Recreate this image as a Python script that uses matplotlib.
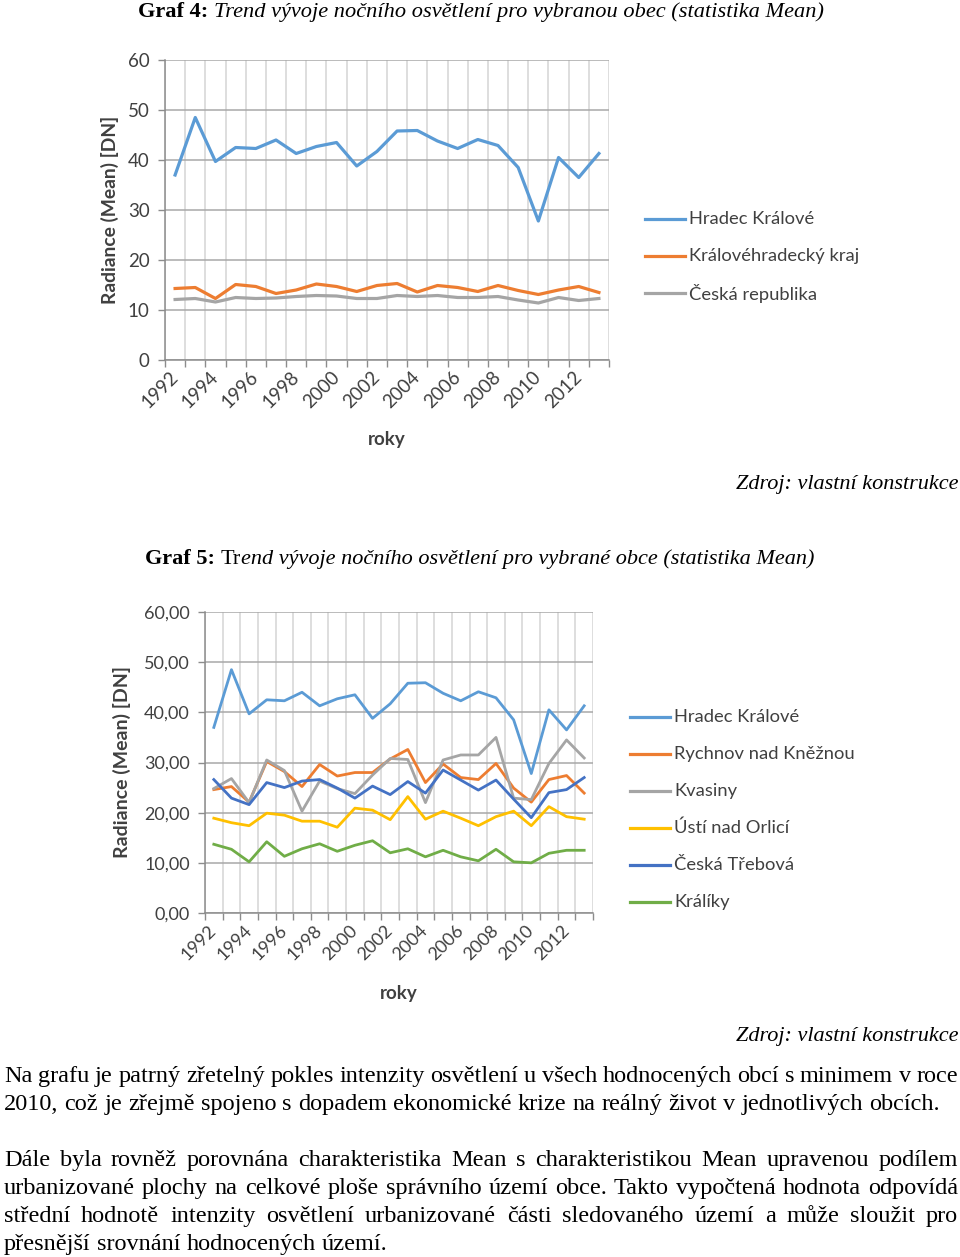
import matplotlib
matplotlib.use('Agg')
import matplotlib.pyplot as plt
from matplotlib.lines import Line2D
import numpy as np

# ---------------- data ----------------
years = list(range(1992, 2014))
year_labels = [str(y) for y in years]

# Graf 4
g4_names = ["Hradec Králové", "Královéhradecký kraj", "Česká republika"]
hradec = [37.0, 48.5, 39.7, 42.5, 42.3, 44.0, 41.3, 42.7, 43.5, 38.8, 41.7,
          45.8, 45.9, 43.8, 42.3, 44.1, 42.9, 38.5, 27.8, 40.5, 36.5, 41.3]
kraj = [14.3, 14.5, 12.3, 15.1, 14.7, 13.3, 14.0, 15.2, 14.7, 13.7, 14.9,
        15.3, 13.6, 14.9, 14.5, 13.7, 14.9, 13.9, 13.1, 14.0, 14.7, 13.5]
cr = [12.1, 12.3, 11.6, 12.5, 12.3, 12.4, 12.7, 12.9, 12.8, 12.3, 12.3,
      12.9, 12.7, 12.9, 12.5, 12.5, 12.7, 12.0, 11.4, 12.5, 11.9, 12.3]

# Graf 5
g5_names = ["Hradec Králové", "Rychnov nad Kněžnou", "Kvasiny",
            "Ústí nad Orlicí", "Česká Třebová", "Králíky"]
rychnov = [24.6, 25.2, 22.1, 30.2, 28.2, 25.2, 29.6, 27.3, 28.0, 28.0, 30.7,
           32.6, 26.0, 29.7, 27.0, 26.6, 29.8, 24.9, 22.1, 26.6, 27.4, 23.9]
kvasiny = [24.8, 26.8, 22.0, 30.5, 28.4, 20.3, 26.3, 24.8, 23.8, 27.5, 30.8,
           30.6, 22.0, 30.5, 31.5, 31.5, 35.0, 22.9, 22.6, 29.8, 34.5, 30.9]
usti = [18.9, 18.0, 17.4, 19.9, 19.5, 18.3, 18.3, 17.1, 20.9, 20.5, 18.6,
        23.2, 18.7, 20.3, 18.9, 17.4, 19.2, 20.3, 17.4, 21.2, 19.2, 18.7]
ceska_trebova = [26.6, 22.9, 21.6, 26.0, 25.0, 26.3, 26.6, 24.9, 22.9, 25.3, 23.6,
                 26.2, 23.9, 28.5, 26.5, 24.5, 26.5, 22.7, 19.0, 24.0, 24.6, 27.0]
kraliky = [13.7, 12.7, 10.2, 14.2, 11.3, 12.8, 13.8, 12.3, 13.5, 14.4, 12.0,
           12.8, 11.2, 12.5, 11.2, 10.4, 12.7, 10.2, 10.0, 11.9, 12.5, 12.5]

y_ticks = [0, 10, 20, 30, 40, 50, 60]

# ---------------- texts ----------------
para1 = ["Na grafu je patrný zřetelný pokles intenzity osvětlení u všech hodnocených obcí s minimem v roce",
         "2010, což je zřejmě spojeno s dopadem ekonomické krize na reálný život v jednotlivých obcích."]
para2 = ["Dále byla rovněž porovnána charakteristika Mean s charakteristikou Mean upravenou podílem",
         "urbanizované plochy na celkové ploše správního území obce. Takto vypočtená hodnota odpovídá",
         "střední hodnotě intenzity osvětlení urbanizované části sledovaného území a může sloužit pro",
         "přesnější srovnání hodnocených území."]

# ---------------- figure ----------------
W, H = 960, 1257
fig = plt.figure(figsize=(W / 100, H / 100), dpi=100)
renderer = fig.canvas.get_renderer()

SANS = ['Lato', 'DejaVu Sans']
SERIF = ['Liberation Serif', 'DejaVu Serif']

C_BLUE = '#5B9BD5'
C_ORANGE = '#ED7D31'
C_GRAY = '#A5A5A5'
C_YELLOW = '#FFC000'
C_DBLUE = '#4472C4'
C_GREEN = '#70AD47'
AXIS_C = '#8c8c8c'
TXT_C = '#404040'


def fx(px):
    return px / W


def fy(py):
    return 1 - py / H


def make_axes(left, top, right, bottom, ytick_fmt, tick_fs, xtick_fs, label_fs,
              ylab_x, xlab_y, xpad):
    ax = fig.add_axes([fx(left), fy(bottom), (right - left) / W, (bottom - top) / H])
    n = len(years)
    ax.set_xlim(-0.5, n - 0.5)
    ax.set_ylim(0, 60)
    ax.set_yticks(y_ticks)
    ax.set_yticklabels([ytick_fmt(v) for v in y_ticks], family=SANS, fontsize=tick_fs,
                       color=TXT_C)
    ax.set_xticks(np.arange(0, n, 2))
    ax.set_xticklabels(year_labels[::2], rotation=45, ha='right', va='center',
                       rotation_mode='anchor', family=SANS, fontsize=xtick_fs,
                       color=TXT_C)
    ax.set_xticks(np.arange(-0.5, n, 1), minor=True)
    ax.tick_params(axis='x', which='major', length=0, pad=xpad)
    ax.tick_params(axis='x', which='minor', length=5, color=AXIS_C, width=1)
    ax.tick_params(axis='y', length=5, color=AXIS_C, width=1, pad=6)
    ax.yaxis.grid(True, color='#a8a8a8', lw=1.1)
    ax.xaxis.grid(True, which='minor', color='#d4d4d4', lw=1.1)
    ax.set_axisbelow(True)
    for s in ['top', 'right']:
        ax.spines[s].set_visible(False)
    for s in ['left', 'bottom']:
        ax.spines[s].set_color(AXIS_C)
        ax.spines[s].set_linewidth(1.1)
    ax.set_ylabel('Radiance (Mean) [DN]', family=SANS, fontweight='bold',
                  fontsize=label_fs, color=TXT_C)
    ax.yaxis.set_label_coords((ylab_x - left) / (right - left), 0.5)
    ax.set_xlabel('roky', family=SANS, fontweight='bold', fontsize=13.5,
                  color=TXT_C)
    ax.xaxis.set_label_coords(0.5, (bottom - xlab_y) / (bottom - top))
    ax.xaxis.label.set_va('center')
    ax.yaxis.label.set_va('center')
    return ax


def manual_legend(names, colors, x0, y0, dy, fs, lw, hlen=40):
    for i, (nm, c) in enumerate(zip(names, colors)):
        yy = y0 + i * dy
        fig.add_artist(Line2D([fx(x0), fx(x0 + hlen)], [fy(yy), fy(yy)], color=c, lw=lw))
        fig.text(fx(x0 + hlen + 4), fy(yy), nm, family=SANS, fontsize=fs,
                 ha='left', va='center', color=TXT_C)


# ---- Graf 4 chart ----
ax1 = make_axes(165, 60, 609, 360, lambda v: f"{v}", 13.5, 13.5, 13.9, 110, 440, 10)
x = np.arange(len(years))
for vals, c in zip([hradec, kraj, cr], [C_BLUE, C_ORANGE, C_GRAY]):
    ax1.plot(x, vals, color=c, lw=2.3, solid_joinstyle='round')
manual_legend(g4_names, [C_BLUE, C_ORANGE, C_GRAY], 645, 219, 37, 13.2, 2.3)

# ---- Graf 5 chart ----
ax2 = make_axes(205, 612, 593, 913, lambda v: f"{v},00", 13, 13, 14, 122, 993, 11)
for vals, c in zip([hradec, rychnov, kvasiny, usti, ceska_trebova, kraliky],
                   [C_BLUE, C_ORANGE, C_GRAY, C_YELLOW, C_DBLUE, C_GREEN]):
    ax2.plot(x, vals, color=c, lw=2.0, solid_joinstyle='round')
manual_legend(g5_names, [C_BLUE, C_ORANGE, C_GRAY, C_YELLOW, C_DBLUE, C_GREEN],
              630, 717, 37, 13.2, 2.3)


# ---------------- rich text helpers ----------------
def width_of(s, **kw):
    t = fig.text(0, 0, s, **kw)
    w = t.get_window_extent(renderer=renderer).width
    t.remove()
    return w


def space_width(**kw):
    return width_of("x x", **kw) - width_of("xx", **kw)


def rich_line(pieces, x, y_base, ha='left'):
    """pieces: list of (string, kwargs, space_after_bool)"""
    widths = []
    for s, kw, sp in pieces:
        w = width_of(s, **kw)
        widths.append(w + (space_width(**kw) if sp else 0))
    total = sum(widths)
    cur = x - total / 2 if ha == 'center' else (x - total if ha == 'right' else x)
    for (s, kw, sp), w in zip(pieces, widths):
        fig.text(fx(cur), fy(y_base), s, ha='left', va='baseline', **kw)
        cur += w


def fit_size(pieces_fn, target):
    w0 = 0
    for s, kw, sp in pieces_fn(10):
        w0 += width_of(s, **kw) + (space_width(**kw) if sp else 0)
    return 10 * target / w0


tcol = '#000000'


def title4(fs):
    return [("Graf 4:", dict(family=SERIF, fontweight='bold', fontsize=fs, color=tcol), True),
            ("Trend vývoje nočního osvětlení pro vybranou obec (statistika Mean)",
             dict(family=SERIF, style='italic', fontsize=fs, color=tcol), False)]


def title5(fs):
    return [("Graf 5:", dict(family=SERIF, fontweight='bold', fontsize=fs, color=tcol), True),
            ("Tr", dict(family=SERIF, fontsize=fs, color=tcol), False),
            ("end vývoje nočního osvětlení pro vybrané obce (statistika Mean)",
             dict(family=SERIF, style='italic', fontsize=fs, color=tcol), False)]


def zdroj(fs):
    return [("Zdroj: vlastní konstrukce",
             dict(family=SERIF, style='italic', fontsize=fs, color=tcol), False)]


fs4 = fit_size(title4, 687)
rich_line(title4(fs4), 138, 17, 'left')
fs5 = fit_size(title5, 672)
rich_line(title5(fs5), 145, 564, 'left')
fsz = fit_size(zdroj, 223)
rich_line(zdroj(fsz), 958, 489, 'right')
rich_line(zdroj(fsz), 958, 1041, 'right')

# ---- paragraphs (justified) ----
body_kw = dict(family=SERIF, color=tcol)


def body_pieces(line, fs):
    words = line.split(' ')
    return [(w, dict(body_kw, fontsize=fs), i < len(words) - 1) for i, w in enumerate(words)]


fsb = fit_size(lambda f: body_pieces(para1[1], f), 936)


def justified(line, y_base, left=4, right=958, justify=True):
    words = line.split(' ')
    if not justify:
        rich_line(body_pieces(line, fsb), left, y_base, 'left')
        return
    ws = [width_of(w, **dict(body_kw, fontsize=fsb)) for w in words]
    gap = (right - left - sum(ws)) / (len(words) - 1)
    cur = left
    for w, wd in zip(words, ws):
        fig.text(fx(cur), fy(y_base), w, ha='left', va='baseline', fontsize=fsb, **body_kw)
        cur += wd + gap


base_off = 8
justified(para1[0], 1074 + base_off)
justified(para1[1], 1102 + base_off, justify=False)
for i, ln in enumerate(para2):
    justified(ln, 1158 + 28 * i + base_off, justify=(i < len(para2) - 1))

fig.savefig('out.png', dpi=100)
